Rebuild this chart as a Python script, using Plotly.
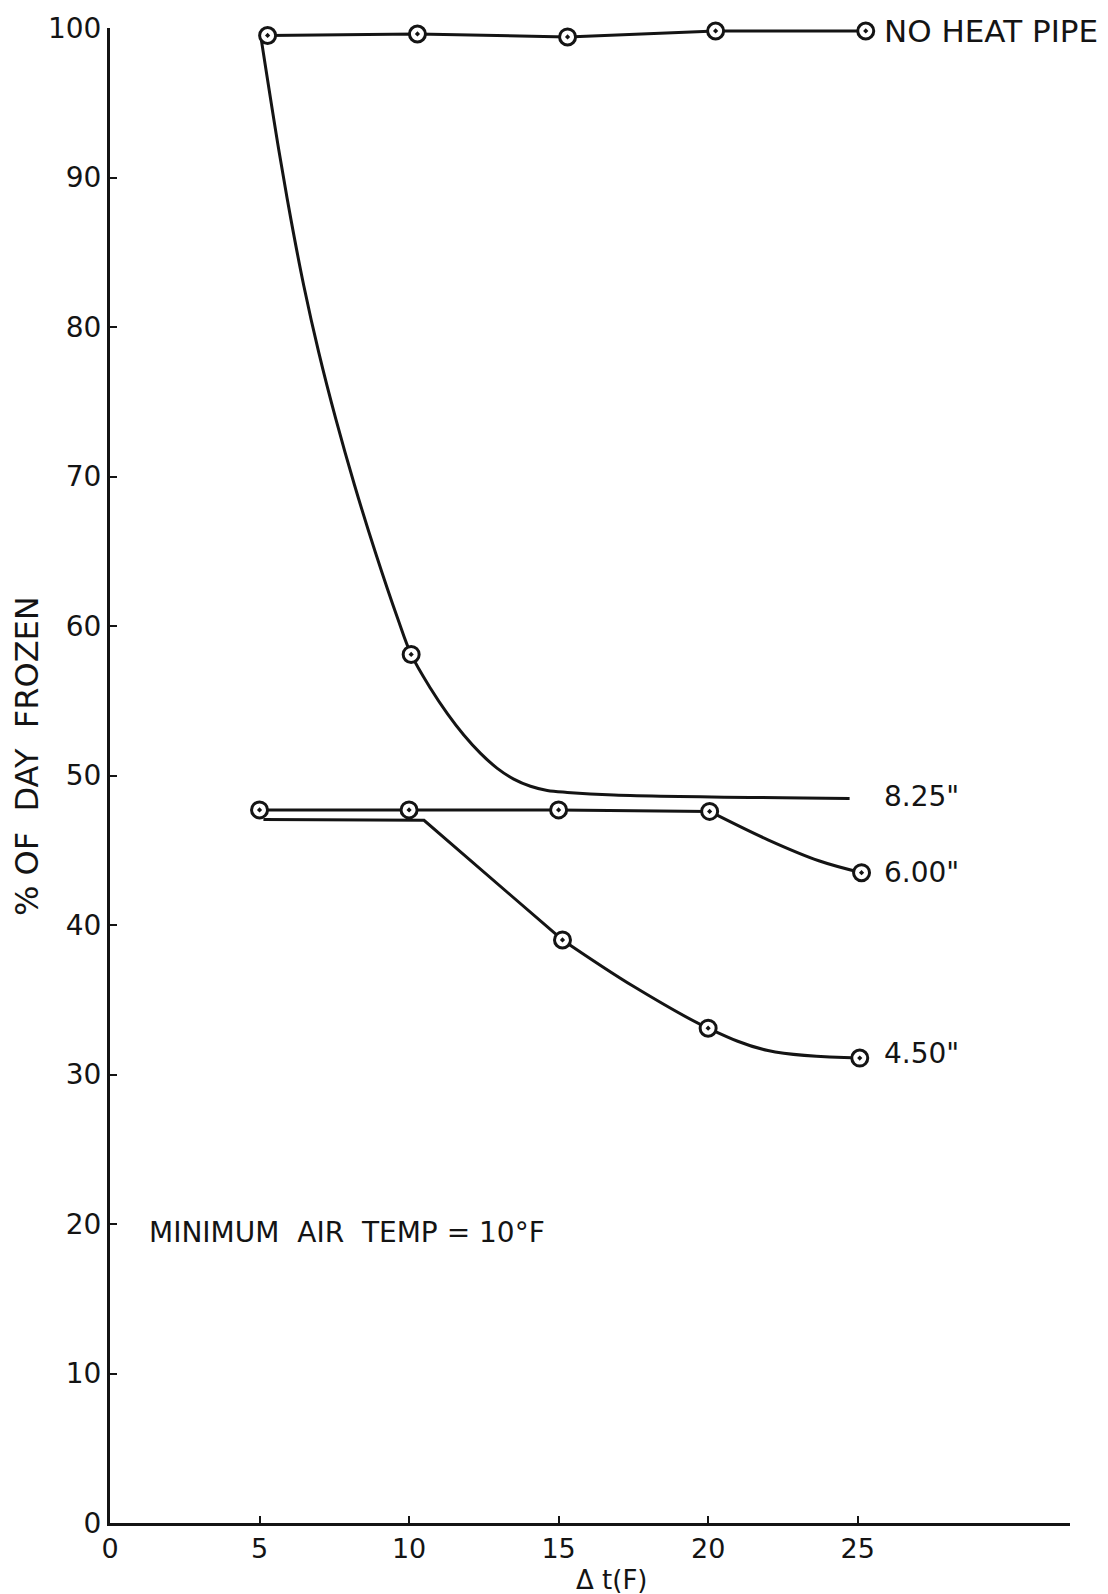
import plotly.graph_objects as go

# ---- data ----
# NO HEAT PIPE
nhp_x = [5.27, 10.28, 15.3, 20.25, 25.27]
nhp_y = [99.5, 99.6, 99.4, 99.8, 99.8]

# 8.25" curve (traced) and its measured point
c825_x = [5.03, 5.66, 6.05, 6.48, 6.98, 7.55, 8.18, 8.87, 9.62, 10.07,
          10.72, 11.28, 11.83, 12.39, 12.95, 13.5, 14.06, 14.62, 15.29, 16.85, 24.73]
c825_y = [99.6, 91.65, 87.2, 82.76, 78.3, 73.85, 69.4, 64.95, 60.5, 58.1,
          55.82, 54.14, 52.71, 51.48, 50.48, 49.76, 49.28, 49.0, 48.87, 48.7, 48.46]
p825_x = [10.07]
p825_y = [58.1]

# 6.00"
c600a_x = [5.0, 10.0, 15.0, 20.05]
c600a_y = [47.7, 47.7, 47.7, 47.6]
c600b_x = [20.05, 22.0, 23.7, 25.13]
c600b_y = [47.6, 45.7, 44.3, 43.5]
p600_x = [5.0, 10.0, 15.0, 20.05, 25.13]
p600_y = [47.7, 47.7, 47.7, 47.6, 43.5]

# 4.50"
c450a_x = [5.13, 10.5, 15.13]
c450a_y = [47.06, 47.0, 39.0]
c450b_x = [15.13, 17.5, 20.0, 22.0, 25.07]
c450b_y = [39.0, 35.9, 33.1, 31.6, 31.1]
p450_x = [15.13, 20.0, 25.07]
p450_y = [39.0, 33.1, 31.1]

series_labels = ["NO HEAT PIPE", '8.25"', '6.00"', '4.50"']
label_y = [99.8, 48.6, 43.5, 31.4]
label_size = [31, 28, 28, 28]

x_ticks = [0, 5, 10, 15, 20, 25]
y_ticks = [0, 10, 20, 30, 40, 50, 60, 70, 80, 90, 100]

INK = "#141414"
FONT = "DejaVu Sans"
LW = 3

fig = go.Figure()

def line(x, y, shape="linear"):
    fig.add_trace(go.Scatter(x=x, y=y, mode="lines",
                             line=dict(color=INK, width=LW, shape=shape, smoothing=1.0),
                             showlegend=False, hoverinfo="skip"))

def pts(x, y):
    fig.add_trace(go.Scatter(x=x, y=y, mode="markers",
                             marker=dict(symbol="circle-dot", size=16, color="white",
                                         line=dict(color=INK, width=3)),
                             showlegend=False, cliponaxis=False))

line(nhp_x, nhp_y)
line(c825_x, c825_y, "spline")
line(c600a_x, c600a_y)
line(c600b_x, c600b_y, "spline")
line(c450a_x, c450a_y)
line(c450b_x, c450b_y, "spline")

pts(nhp_x, nhp_y)
pts(p825_x, p825_y)
pts(p600_x, p600_y)
pts(p450_x, p450_y)

for lab, ly, ls in zip(series_labels, label_y, label_size):
    fig.add_annotation(x=25.8, y=ly, xref="x", yref="y", text=lab, showarrow=False,
                       xanchor="left", yanchor="middle",
                       font=dict(family=FONT, size=ls, color=INK))

fig.add_annotation(x=1.25, y=19.4, xref="x", yref="y", text="MINIMUM  AIR  TEMP = 10°F",
                   showarrow=False, xanchor="left", yanchor="middle",
                   font=dict(family=FONT, size=28, color=INK))

fig.add_annotation(x=-0.0865, y=0.513, xref="paper", yref="paper", text="% OF  DAY  FROZEN",
                   textangle=-90, showarrow=False, xanchor="center", yanchor="middle",
                   font=dict(family=FONT, size=32, color=INK))

fig.add_annotation(x=0.523, y=-0.038, xref="paper", yref="paper", text="Δ t(F)",
                   showarrow=False, xanchor="center", yanchor="middle",
                   font=dict(family=FONT, size=26, color=INK))

fig.update_layout(
    width=1108, height=1594,
    margin=dict(l=110, r=38, t=25, b=71),
    paper_bgcolor="white", plot_bgcolor="white",
    showlegend=False,
    xaxis=dict(range=[0, 32.1], showgrid=False, zeroline=False, showline=True,
               linecolor=INK, linewidth=3, ticks="inside", ticklen=7, tickwidth=2,
               tickcolor=INK, tickvals=x_ticks, ticktext=[str(v) for v in x_ticks],
               tickfont=dict(family=FONT, size=27, color=INK)),
    yaxis=dict(range=[0, 100], showgrid=False, zeroline=False, showline=True,
               linecolor=INK, linewidth=3, ticks="inside", ticklen=7, tickwidth=2,
               tickcolor=INK, tickvals=y_ticks, ticktext=[str(v) for v in y_ticks],
               tickfont=dict(family=FONT, size=28, color=INK)),
)

fig.write_html("out.html")
